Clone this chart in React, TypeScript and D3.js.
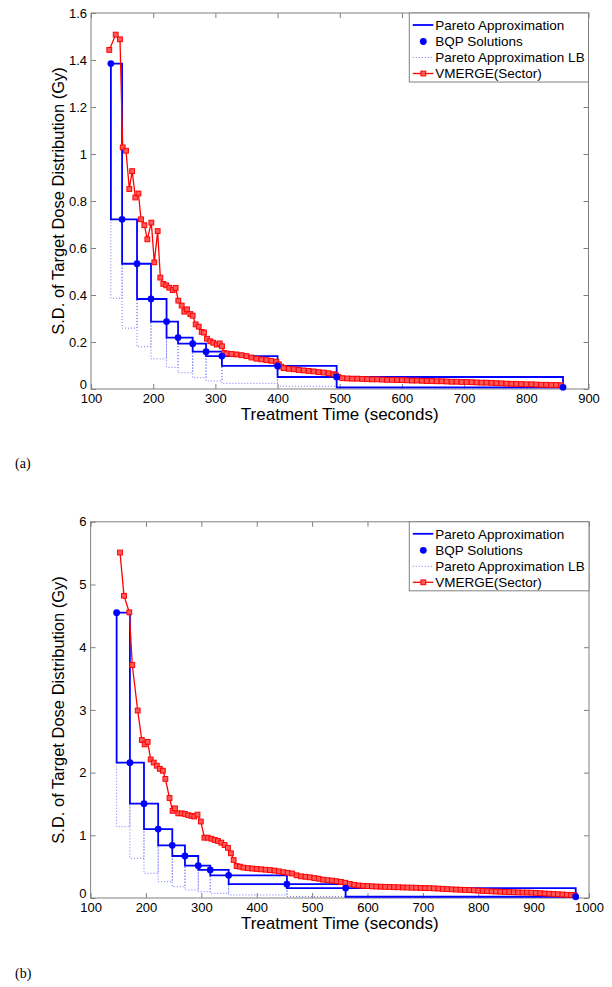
import { useEffect, useRef } from "react";
import * as d3 from "d3";

// ---------- panel (a) ----------
const aBqpTime = [132, 150, 174, 196.5, 221.5, 240, 263.5, 285, 310.5, 400, 495, 859];
const aBqpSD = [1.385, 0.722, 0.533, 0.383, 0.287, 0.219, 0.193, 0.159, 0.14, 0.098, 0.051, 0.007];
// lower bound level for each interval between BQP solutions
const aLowerBound = [0.386, 0.259, 0.18, 0.128, 0.092, 0.069, 0.048, 0.034, 0.024, 0.012, 0.002];
const aVmerge = [
  [129.4, 1.443], [139.7, 1.508], [146.6, 1.488], [151, 1.028], [156.3, 1.014], [161.6, 0.851],
  [166.2, 0.927], [171.3, 0.815], [176.3, 0.832], [180.4, 0.722], [185.8, 0.697], [190.6, 0.637],
  [197, 0.708], [201.8, 0.539], [207.2, 0.672], [211.5, 0.474], [216.3, 0.447], [221.1, 0.441],
  [225.9, 0.431], [231.3, 0.421], [236.1, 0.43], [240.4, 0.376], [245.8, 0.355], [250, 0.329],
  [254.4, 0.339], [259.7, 0.319], [263.5, 0.312], [268.3, 0.275], [273.2, 0.265], [278, 0.243],
  [281.7, 0.24], [286.5, 0.214], [291.8, 0.203], [296.6, 0.197], [302.1, 0.189], [306.9, 0.194],
  [310.6, 0.182], [313.8, 0.153], [318, 0.151], [326, 0.149], [334, 0.147], [342, 0.144],
  [350, 0.14], [358, 0.134], [366, 0.129], [374, 0.126], [382, 0.123], [390, 0.12], [398, 0.116],
  [402, 0.105], [406, 0.095], [410, 0.089], [418, 0.086], [426, 0.084], [434, 0.081], [442, 0.079],
  [450, 0.077], [458, 0.075], [466, 0.072], [474, 0.07], [482, 0.067], [490, 0.063], [494, 0.058],
  [498, 0.051], [504, 0.046], [512, 0.045], [520, 0.044], [528, 0.044], [536, 0.043], [544, 0.042],
  [552, 0.041], [560, 0.041], [568, 0.04], [576, 0.039], [584, 0.039], [592, 0.038], [600, 0.038],
  [608, 0.037], [616, 0.036], [624, 0.036], [632, 0.035], [640, 0.034], [648, 0.034], [656, 0.033],
  [664, 0.033], [672, 0.032], [680, 0.031], [688, 0.031], [696, 0.03], [704, 0.03], [712, 0.029],
  [720, 0.028], [728, 0.027], [736, 0.027], [744, 0.026], [752, 0.025], [760, 0.024], [768, 0.023],
  [776, 0.022], [784, 0.022], [792, 0.021], [800, 0.02], [808, 0.02], [816, 0.019], [824, 0.018],
  [832, 0.018], [840, 0.017], [848, 0.017], [856, 0.016],
];
const aXTicks = [100, 200, 300, 400, 500, 600, 700, 800, 900];
const aYTicks = [0, 0.2, 0.4, 0.6, 0.8, 1, 1.2, 1.4, 1.6];

// ---------- panel (b) ----------
const bBqpTime = [147, 171, 196.4, 222, 247.5, 270.4, 294.4, 316, 349.3, 454.5, 560.5, 976];
const bBqpSD = [4.55, 2.158, 1.504, 1.1, 0.84, 0.67, 0.515, 0.447, 0.362, 0.22, 0.159, 0.02];
const bLowerBound = [1.137, 0.633, 0.394, 0.26, 0.18, 0.128, 0.1, 0.075, 0.048, 0.025, 0.003];
const bVmerge = [
  [153.1, 5.51], [160.3, 4.82], [169.9, 4.556], [175.3, 3.716], [185, 2.99], [192.5, 2.52],
  [197.5, 2.45], [203, 2.49], [208.5, 2.21], [214, 2.16], [219.5, 2.11], [225, 2.06], [230.5, 2.03],
  [235, 1.9], [242.5, 1.595], [248, 1.39], [252.3, 1.43], [258.3, 1.35], [264.5, 1.35], [270.4, 1.34],
  [276.4, 1.32], [282.5, 1.31], [287.2, 1.3], [293, 1.33], [299, 1.22], [305.5, 0.962], [311.5, 0.962],
  [318, 0.946], [324, 0.925], [330, 0.91], [336, 0.882], [342, 0.845], [348, 0.8], [353.4, 0.713],
  [358.3, 0.606], [363.7, 0.51], [369.7, 0.5], [376, 0.485], [384, 0.476], [392, 0.469], [400, 0.463],
  [408, 0.457], [416, 0.451], [424, 0.445], [432, 0.437], [440, 0.425], [448, 0.412], [456, 0.402],
  [464, 0.39], [472, 0.362], [480, 0.345], [488, 0.338], [496, 0.33], [504, 0.318], [512, 0.307],
  [520, 0.292], [528, 0.284], [536, 0.277], [544, 0.268], [552, 0.256], [560, 0.243], [568, 0.224],
  [576, 0.21], [584, 0.2], [592, 0.194], [600, 0.19], [608, 0.186], [616, 0.183], [624, 0.18],
  [632, 0.178], [640, 0.176], [648, 0.173], [656, 0.171], [664, 0.169], [672, 0.167], [680, 0.165],
  [688, 0.163], [696, 0.161], [704, 0.159], [712, 0.157], [720, 0.154], [728, 0.15], [736, 0.146],
  [744, 0.142], [752, 0.138], [760, 0.135], [768, 0.132], [776, 0.129], [784, 0.126], [792, 0.122],
  [800, 0.118], [808, 0.114], [816, 0.11], [824, 0.106], [832, 0.103], [840, 0.1], [848, 0.097],
  [856, 0.094], [864, 0.092], [872, 0.09], [880, 0.088], [888, 0.087], [896, 0.085], [904, 0.081],
  [912, 0.077], [920, 0.072], [928, 0.068], [936, 0.064], [944, 0.06], [952, 0.056], [960, 0.052],
  [968, 0.048], [974, 0.045],
];
const bXTicks = [100, 200, 300, 400, 500, 600, 700, 800, 900, 1000];
const bYTicks = [0, 1, 2, 3, 4, 5, 6];

const legendLabels = ["Pareto Approximation", "BQP Solutions", "Pareto Approximation LB", "VMERGE(Sector)"];
const xTitle = "Treatment Time (seconds)";
const yTitle = "S.D. of Target Dose Distribution (Gy)";

const FONT = "'Liberation Sans', Arial, sans-serif";
const GRAY = "#808080";
const BLUE = "#0000ff";
const RED = "#ff0000";
const SQFILL = "#ff5a5a";
const LBCOL = "#7373f5";

function lbPoints(ts, vs, lb) {
  const pts = [];
  for (let i = 0; i < lb.length; i++) {
    pts.push([ts[i], vs[i + 1]], [ts[i], lb[i]], [ts[i + 1], lb[i]]);
  }
  return pts;
}

function drawPanel(svg, p) {
  const x = d3.scaleLinear().domain(p.xDomain).range([p.left, p.right]);
  const y = d3.scaleLinear().domain(p.yDomain).range([p.bottom, p.top]);
  const g = svg.append("g");

  g.append("rect")
    .attr("x", p.left).attr("y", p.top)
    .attr("width", p.right - p.left).attr("height", p.bottom - p.top)
    .attr("fill", "white").attr("stroke", GRAY);

  const fmt = (d) => String(+d.toFixed(1));
  const axes = [
    [d3.axisBottom(x).tickValues(p.xTicks).tickFormat(fmt).tickPadding(5), `translate(0,${p.bottom})`],
    [d3.axisTop(x).tickValues(p.xTicks).tickFormat(() => ""), `translate(0,${p.top})`],
    [d3.axisLeft(y).tickValues(p.yTicks).tickFormat(fmt).tickPadding(4), `translate(${p.left},0)`],
    [d3.axisRight(y).tickValues(p.yTicks).tickFormat(() => ""), `translate(${p.right},0)`],
  ];
  axes.forEach(([ax, tr]) => {
    const a = g.append("g").attr("transform", tr)
      .call(ax.tickSizeInner(-5).tickSizeOuter(0));
    a.select(".domain").remove();
    a.selectAll("line").attr("stroke", GRAY);
    a.attr("font-family", FONT).attr("font-size", 13);
    a.selectAll("text").attr("fill", "#000");
  });
  // lift the y "0" label a little, as in the original figure
  g.selectAll("text").filter(function () { return this.textContent === "0"; }).attr("dy", "-0.05em");

  const pts = p.time.map((t, i) => [t, p.sd[i]]);
  const line = d3.line().x((d) => x(d[0])).y((d) => y(d[1]));

  // lower bound (dotted)
  g.append("path")
    .attr("d", line(lbPoints(p.time, p.sd, p.lb)))
    .attr("fill", "none").attr("stroke", LBCOL).attr("stroke-width", 1)
    .attr("stroke-dasharray", "1,2");

  // Pareto approximation: upper and lower staircases
  [d3.curveStepAfter, d3.curveStepBefore].forEach((c) => {
    g.append("path")
      .attr("d", line.curve(c)(pts))
      .attr("fill", "none").attr("stroke", BLUE).attr("stroke-width", 1.8);
  });
  line.curve(d3.curveLinear);

  // VMERGE
  g.append("path")
    .attr("d", line(p.vmerge))
    .attr("fill", "none").attr("stroke", RED).attr("stroke-width", 1.3);
  g.selectAll(".sq").data(p.vmerge).enter().append("rect")
    .attr("x", (d) => x(d[0]) - 2.4).attr("y", (d) => y(d[1]) - 2.4)
    .attr("width", 4.8).attr("height", 4.8)
    .attr("fill", SQFILL).attr("stroke", RED).attr("stroke-width", 1);

  // BQP solutions
  g.selectAll(".dot").data(pts).enter().append("circle")
    .attr("cx", (d) => x(d[0])).attr("cy", (d) => y(d[1])).attr("r", 3.4)
    .attr("fill", BLUE);

  // axis titles
  g.append("text")
    .attr("x", (p.left + p.right) / 2).attr("y", p.bottom + 31)
    .attr("text-anchor", "middle").attr("font-family", FONT).attr("font-size", 17)
    .text(xTitle);
  g.append("text")
    .attr("transform", `translate(64,${(p.top + p.bottom) / 2}) rotate(-90)`)
    .attr("text-anchor", "middle").attr("font-family", FONT).attr("font-size", 16.5)
    .text(yTitle);

  // legend
  const lx = 409.3, lw = p.right - lx, lh = 69;
  const lg = g.append("g");
  lg.append("rect").attr("x", lx).attr("y", p.top).attr("width", lw).attr("height", lh)
    .attr("fill", "white").attr("stroke", GRAY);
  const rows = [12, 28.5, 44.5, 60.5];
  legendLabels.forEach((lab, i) => {
    const ry = p.top + rows[i];
    if (i === 0 || i === 3) {
      lg.append("line").attr("x1", lx + 3.5).attr("x2", lx + 24).attr("y1", ry).attr("y2", ry)
        .attr("stroke", i === 0 ? BLUE : RED).attr("stroke-width", i === 0 ? 1.8 : 1.3);
    }
    if (i === 1) lg.append("circle").attr("cx", lx + 14).attr("cy", ry).attr("r", 3.4).attr("fill", BLUE);
    if (i === 2) {
      lg.append("line").attr("x1", lx + 3.5).attr("x2", lx + 24).attr("y1", ry).attr("y2", ry)
        .attr("stroke", LBCOL).attr("stroke-dasharray", "1,2");
    }
    if (i === 3) {
      lg.append("rect").attr("x", lx + 11.6).attr("y", ry - 2.4).attr("width", 4.8).attr("height", 4.8)
        .attr("fill", SQFILL).attr("stroke", RED);
    }
    lg.append("text").attr("x", lx + 26).attr("y", ry).attr("dy", "0.35em")
      .attr("font-family", FONT).attr("font-size", 13.5).text(lab);
  });

  // sub-caption
  svg.append("text").attr("x", 15).attr("y", p.caption)
    .attr("font-family", "'Liberation Serif', 'DejaVu Serif', serif").attr("font-size", 14)
    .text(p.label);
}

export default function App() {
  const ref = useRef(null);
  useEffect(() => {
    const svg = d3.select(ref.current);
    svg.selectAll("*").remove();
    drawPanel(svg, {
      left: 91, right: 588.5, top: 13, bottom: 389,
      xDomain: [100, 900], yDomain: [0, 1.6], xTicks: aXTicks, yTicks: aYTicks,
      time: aBqpTime, sd: aBqpSD, lb: aLowerBound, vmerge: aVmerge,
      label: "(a)", caption: 468,
    });
    drawPanel(svg, {
      left: 90.6, right: 589, top: 521.8, bottom: 898,
      xDomain: [100, 1000], yDomain: [0, 6], xTicks: bXTicks, yTicks: bYTicks,
      time: bBqpTime, sd: bBqpSD, lb: bLowerBound, vmerge: bVmerge,
      label: "(b)", caption: 978,
    });
  }, []);
  return (
    <svg ref={ref} width={612} height={987}
      style={{ position: "absolute", left: 0, top: 0, background: "white" }} />
  );
}
